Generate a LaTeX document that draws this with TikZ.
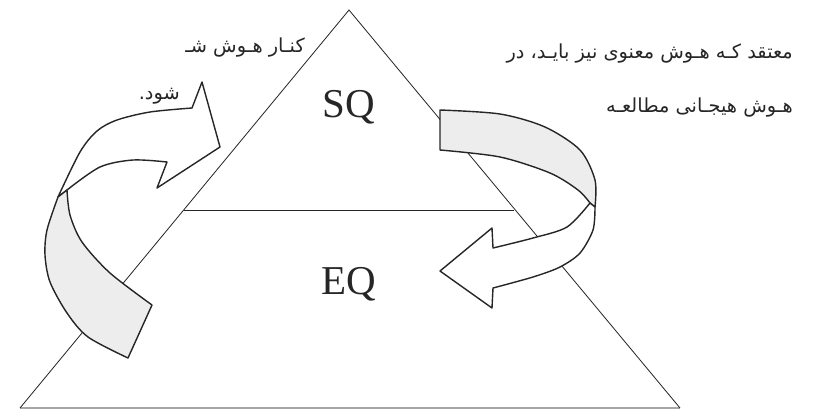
\documentclass[tikz,border=0pt]{standalone}
\usepackage{fontspec}
\setmainfont{Liberation Serif}
\newfontfamily\farsi[Script=Arabic]{DejaVu Sans}
\TeXXeTstate=1
\usetikzlibrary{positioning}

\begin{document}
\begin{tikzpicture}[
    x=0.03cm, y=-0.03cm,
    tri/.style={draw=black!85, line width=0.7pt},
    floor/.style={draw=black!35, line width=1.4pt},
    ribbon/.style={draw=black!85, line width=1.2pt, line join=round, fill=white},
    back/.style={ribbon, fill=black!7},
    lbl/.style={font=\fontsize{35}{40}\selectfont, text=black!85, inner sep=0pt},
    fa/.style={font=\farsi\fontsize{16.5}{20}\selectfont, text=black!85, inner sep=0pt}
]
\useasboundingbox (0,0) rectangle (832,411);

% pyramid
\coordinate (apex) at (349,10);
\coordinate (bl) at (20,408);
\coordinate (br) at (680,408);
\coordinate (ml) at (184,210);
\coordinate (mr) at (514,210);
\draw[floor] (bl) -- (br);
\draw[tri] (bl) -- (apex) -- (br);
\draw[tri] (ml) -- (mr);

\node[lbl, anchor=base] (sq) at (349,117) {SQ};
\node[lbl, anchor=base] (eq) at (349,294) {EQ};

% left ribbon arrow
\draw[ribbon] (220,147) -- (202,82) -- plot[smooth] coordinates {(192,108) (150,112) (117,120) (97,131) (80,152) (58,197)}
  -- plot[smooth] coordinates {(67,190) (100,167) (133,160) (167,162)} -- (157,188) -- cycle;
\draw[back] plot[smooth] coordinates {(58,197) (47,230) (45,255) (50,282) (67,313) (88,337) (128,358)}
  -- (152,305) -- plot[smooth] coordinates {(152,305) (110,273) (82,242) (70,215) (67,190)} -- cycle;

% right ribbon arrow
\draw[back] (440,150) -- plot[smooth] coordinates {(440,110) (500,114) (545,127) (580,150) (595,180) (595,207)}
  -- plot[smooth] coordinates {(590,203) (578,190) (550,173) (500,157) (440,150)} -- cycle;
\draw[ribbon] plot[smooth] coordinates {(595,207) (593,230) (580,253) (560,267) (533,277) (493,288)}
  -- (492,308) -- (440,271) -- (492,228)
  -- plot[smooth] coordinates {(493,248) (533,238) (567,227) (590,203)} -- cycle;

% surrounding text
\node[fa, anchor=east] (fa1) at (793,54) {\beginR معتقد کـه هـوش معنوی نیز بایـد، در\endR};
\node[fa, anchor=east] (fa2) at (793,108) {\beginR هـوش هیجـانی مطالعـه\endR};
\node[fa, anchor=east] (fa3) at (305,48) {\beginR کنـار هـوش شـ\endR};
\node[fa, anchor=east] (fa4) at (180,96) {\beginR شود.\endR};
\end{tikzpicture}
\end{document}
